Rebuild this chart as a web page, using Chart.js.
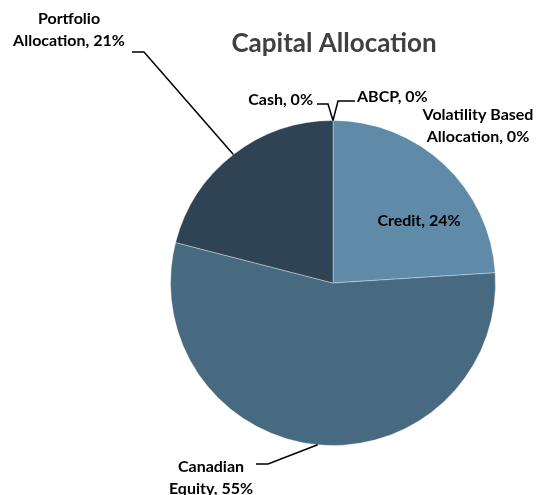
<!DOCTYPE html>
<html>
<head>
<meta charset="utf-8">
<script src="https://cdn.jsdelivr.net/npm/chart.js@4.4.0/dist/chart.umd.min.js"></script>
<style>
  html, body { margin: 0; padding: 0; background: #fff; }
</style>
</head>
<body>
<canvas id="pieChart" width="541" height="495"></canvas>
<script>
// データ (clockwise from 12 o'clock)
const categories = ['ABCP', 'Volatility Based Allocation', 'Credit', 'Canadian Equity', 'Portfolio Allocation', 'Cash'];
const shares = [0, 0, 24, 55, 21, 0];
const sliceColors = ['#5f8ba8', '#5f8ba8', '#5f8ba8', '#476a80', '#2e4455', '#2e4455'];

// label text lines + placement (x, y, align) and optional leader elbow
const labelLines = [
  ['ABCP, 0%'],
  ['Volatility Based', 'Allocation, 0%'],
  ['Credit, 24%'],
  ['Canadian', 'Equity, 55%'],
  ['Portfolio', 'Allocation, 21%'],
  ['Cash, 0%']
];
const labelPos = [
  { x: 357, y: 97, align: 'left', leader: [[355, 101], [338, 101]] },
  { x: 478, y: 115, align: 'center' },
  { x: 419, y: 221, align: 'center' },
  { x: 211, y: 467, align: 'center', leader: [[256, 464], [268, 464]] },
  { x: 69, y: 19, align: 'center', leader: [[132, 52], [144, 52]] },
  { x: 313, y: 100, align: 'right', leader: [[317, 104], [328, 104]] }
];

const labelPlugin = {
  id: 'pieLabels',
  afterDraw(chart) {
    const ctx = chart.ctx;
    const arcs = chart.getDatasetMeta(0).data;
    ctx.save();
    // タイトル
    ctx.fillStyle = '#404040';
    ctx.font = 'bold 26px Lato';
    ctx.textAlign = 'center';
    ctx.textBaseline = 'middle';
    ctx.fillText('Capital Allocation', 334, 44);

    ctx.font = 'bold 16px Lato';
    ctx.fillStyle = '#000';
    ctx.strokeStyle = '#000';
    ctx.lineWidth = 1.5;
    labelLines.forEach((lines, i) => {
      const p = labelPos[i];
      ctx.textAlign = p.align;
      lines.forEach((t, j) => ctx.fillText(t, p.x, p.y + j * 22));
      if (p.leader) {
        const a = arcs[i];
        const mid = (a.startAngle + a.endAngle) / 2;
        const ex = a.x + Math.cos(mid) * a.outerRadius;
        const ey = a.y + Math.sin(mid) * a.outerRadius;
        ctx.beginPath();
        ctx.moveTo(p.leader[0][0], p.leader[0][1]);
        ctx.lineTo(p.leader[1][0], p.leader[1][1]);
        ctx.lineTo(ex, ey);
        ctx.stroke();
      }
    });
    ctx.restore();
  }
};

const ctx = document.getElementById('pieChart').getContext('2d');
const pieChart = new Chart(ctx, {
  type: 'pie',
  data: {
    labels: categories,
    datasets: [{
      data: shares,
      backgroundColor: sliceColors,
      borderColor: 'rgba(255,255,255,0.35)',
      borderWidth: 1
    }]
  },
  options: {
    responsive: false,
    animation: false,
    layout: { padding: { left: 170, right: 45, top: 120, bottom: 49 } },
    plugins: {
      legend: { display: false },
      tooltip: { enabled: false },
      title: { display: false }
    }
  },
  plugins: [labelPlugin]
});
</script>
</body>
</html>
